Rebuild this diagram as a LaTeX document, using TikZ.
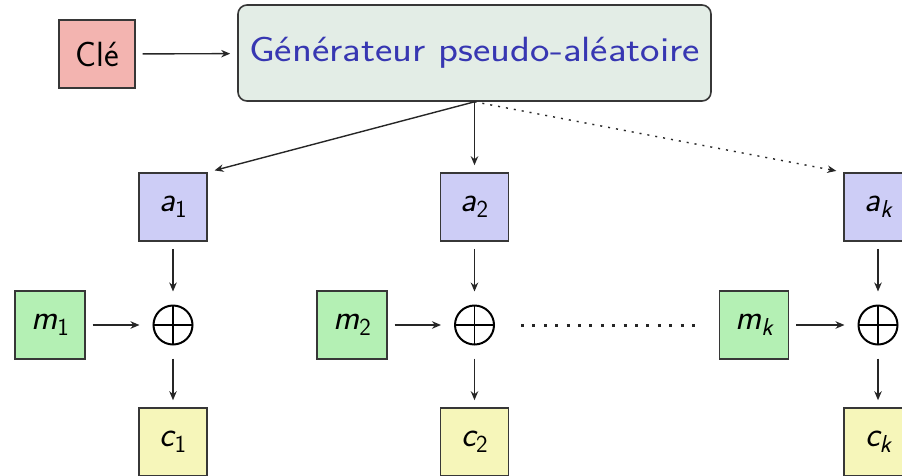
\documentclass[tikz,border=0pt]{standalone}
\usepackage{fontspec}
\usepackage{graphicx}
\usetikzlibrary{arrows.meta}

\definecolor{boxline}{RGB}{55,55,55}
\definecolor{keyfill}{RGB}{243,180,176}
\definecolor{genfill}{RGB}{227,237,230}
\definecolor{gentext}{RGB}{55,55,178}
\definecolor{afill}{RGB}{205,205,246}
\definecolor{mfill}{RGB}{180,240,180}
\definecolor{cfill}{RGB}{246,246,186}

% label font and lowered index
\newcommand\diagfont{\sffamily\fontsize{35}{42}\selectfont}
\newcommand\idx[1]{\raisebox{-6pt}{\fontsize{24.5}{30}\selectfont #1}}

\begin{document}
\begin{tikzpicture}[x=1pt,y=-1pt,
  box/.style={draw=boxline, line width=1.6pt, minimum width=68pt,
    minimum height=68pt, inner xsep=16pt, inner ysep=0pt, font=\diagfont},
  keybox/.style={box, fill=keyfill},
  genbox/.style={box, fill=genfill, rounded corners=9pt, minimum width=473pt,
    minimum height=96pt, inner xsep=8pt, text=gentext},
  abox/.style={box, fill=afill},
  mbox/.style={box, fill=mfill},
  cbox/.style={box, fill=cfill},
  xorop/.style={circle, draw=black, line width=2pt, minimum size=39pt,
    inner sep=0pt, outer sep=7pt,
    path picture={\draw[line width=1.5pt]
      (path picture bounding box.north) -- (path picture bounding box.south)
      (path picture bounding box.west) -- (path picture bounding box.east);}},
  tip/.style={-{Stealth[length=9pt,width=7.5pt]}},
  arr/.style={tip, line width=1.4pt, draw=black!85, shorten <=7pt, shorten >=7pt},
  genarr/.style={tip, line width=1.4pt, draw=black!85, shorten >=7pt},
  dotarr/.style={genarr, dash pattern=on 2pt off 6pt},
  dots/.style={line width=3pt, draw=black!85, dash pattern=on 3pt off 8.4pt,
    shorten <=20pt, shorten >=23pt}
]
\clip (0,0) rectangle (902,475);
\useasboundingbox (0,0) rectangle (902,475);

% key and generator
\node[keybox] (cle) at (97,54) {Clé};
\node[genbox] (gen) at (474.5,53) {\scalebox{1.18}[1]{Générateur pseudo-aléatoire}};

% keystream blocks
\node[abox] (a1) at (173,207) {\itshape a\idx{\upshape 1}};
\node[abox] (a2) at (474.5,207) {\itshape a\idx{\upshape 2}};
\node[abox] (ak) at (878,207) {\itshape a\idx{k}};

% message blocks
\node[mbox] (m1) at (50,325) {\itshape m\idx{\upshape 1}};
\node[mbox] (m2) at (352,325) {\itshape m\idx{\upshape 2}};
\node[mbox] (mk) at (754,325) {\itshape m\idx{k}};

% xor operators
\node[xorop] (x1) at (173,325) {};
\node[xorop] (x2) at (474.5,325) {};
\node[xorop] (xk) at (878,325) {};

% ciphertext blocks
\node[cbox] (c1) at (173,442) {\itshape c\idx{\upshape 1}};
\node[cbox] (c2) at (474.5,442) {\itshape c\idx{\upshape 2}};
\node[cbox] (ck) at (878,442) {\itshape c\idx{k}};

% connectors
\draw[arr] (cle) -- (gen);
\draw[genarr] (gen.south) -- (a1.north east);
\draw[genarr] (gen.south) -- (a2.north);
\draw[dotarr] (gen.south) -- (ak.north west);

\foreach \i in {1,2,k}{
  \draw[arr] (a\i) -- (x\i);
  \draw[arr] (m\i) -- (x\i);
  \draw[arr] (x\i) -- (c\i);
}
\draw[dots] (x2.east) -- (mk.west);
\end{tikzpicture}
\end{document}
